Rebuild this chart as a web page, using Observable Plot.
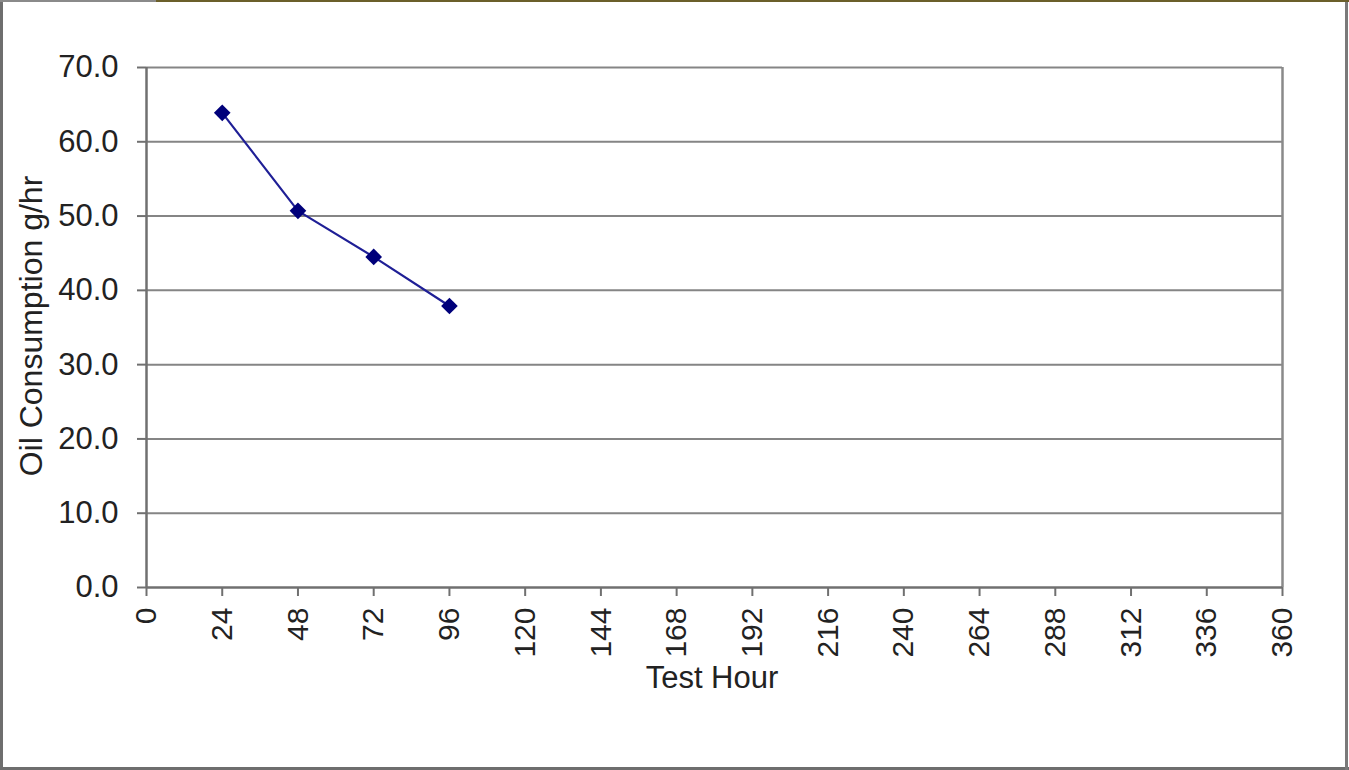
<!DOCTYPE html>
<html>
<head>
<meta charset="utf-8">
<script src="https://cdn.jsdelivr.net/npm/d3@7"></script>
<script src="https://cdn.jsdelivr.net/npm/@observablehq/plot@0.6"></script>
<style>
  html, body { margin: 0; padding: 0; background: #fff; }
  #wrap { position: relative; width: 1349px; height: 770px; overflow: hidden; background: #fff; }
  #chart { position: absolute; left: 0; top: 0; }
  .edge { position: absolute; }
  svg { font-family: "Liberation Sans", Arial, sans-serif; }
</style>
</head>
<body>
<div id="wrap">
  <div id="chart"></div>
  <div class="edge" style="left:0;top:0;width:3px;height:770px;background:#6e6e6e"></div>
  <div class="edge" style="left:0;top:767px;width:1349px;height:3px;background:#6e6e6e"></div>
  <div class="edge" style="left:1345px;top:0;width:3px;height:770px;background:#7a7a7a"></div>
  <div class="edge" style="left:0;top:0;width:156px;height:2px;background:#8a8a8a"></div>
  <div class="edge" style="left:156px;top:0;width:1193px;height:2px;background:#6b5f2a"></div>
</div>
<script>
const hours = [24, 48, 72, 96];
const consumption = [63.9, 50.7, 44.5, 37.9];
const xTicks = [0, 24, 48, 72, 96, 120, 144, 168, 192, 216, 240, 264, 288, 312, 336, 360];
const yTicks = [0, 10, 20, 30, 40, 50, 60, 70];
const xTitle = "Test Hour";
const yTitle = "Oil Consumption g/hr";

const data = hours.map((h, i) => ({hour: h, value: consumption[i]}));

const chart = Plot.plot({
  width: 1349,
  height: 770,
  marginLeft: 146,
  marginRight: 67,
  marginTop: 67,
  marginBottom: 183,
  style: {background: "transparent", fontFamily: "Liberation Sans, Arial, sans-serif"},
  x: {domain: [0, 360]},
  y: {domain: [0, 70]},
  marks: [
    Plot.ruleY(yTicks.filter(d => d > 0), {stroke: "#858585", strokeWidth: 2}),
    Plot.ruleX([360], {stroke: "#8a8a8a", strokeWidth: 2.5}),
    Plot.axisY({ticks: yTicks, tickFormat: d => d.toFixed(1), tickSize: 9, tickPadding: 19,
      fontSize: 31, stroke: "#707070", strokeWidth: 2, label: null, fill: "#222"}),
    Plot.axisX({ticks: xTicks, tickFormat: d => String(d), tickSize: 9, tickPadding: 11,
      tickRotate: -90, fontSize: 30, stroke: "#707070", strokeWidth: 2, label: null, fill: "#222"}),
    Plot.ruleY([0], {stroke: "#707070", strokeWidth: 2.5}),
    Plot.ruleX([0], {stroke: "#707070", strokeWidth: 2.5}),
    Plot.line(data, {x: "hour", y: "value", stroke: "#1f1f96", strokeWidth: 2.2}),
    Plot.dot(data, {x: "hour", y: "value", symbol: "diamond2", r: 7.5, fill: "#00007a", stroke: "none"})
  ]
});

const svg = d3.select(chart);
svg.append("text")
  .attr("x", 712).attr("y", 688)
  .attr("text-anchor", "middle")
  .style("font-size", "31px").attr("fill", "#222")
  .text(xTitle);
svg.append("text")
  .attr("transform", "translate(42,326) rotate(-90)")
  .attr("text-anchor", "middle")
  .style("font-size", "32px").attr("fill", "#222")
  .text(yTitle);

document.getElementById("chart").appendChild(chart);
</script>
</body>
</html>
